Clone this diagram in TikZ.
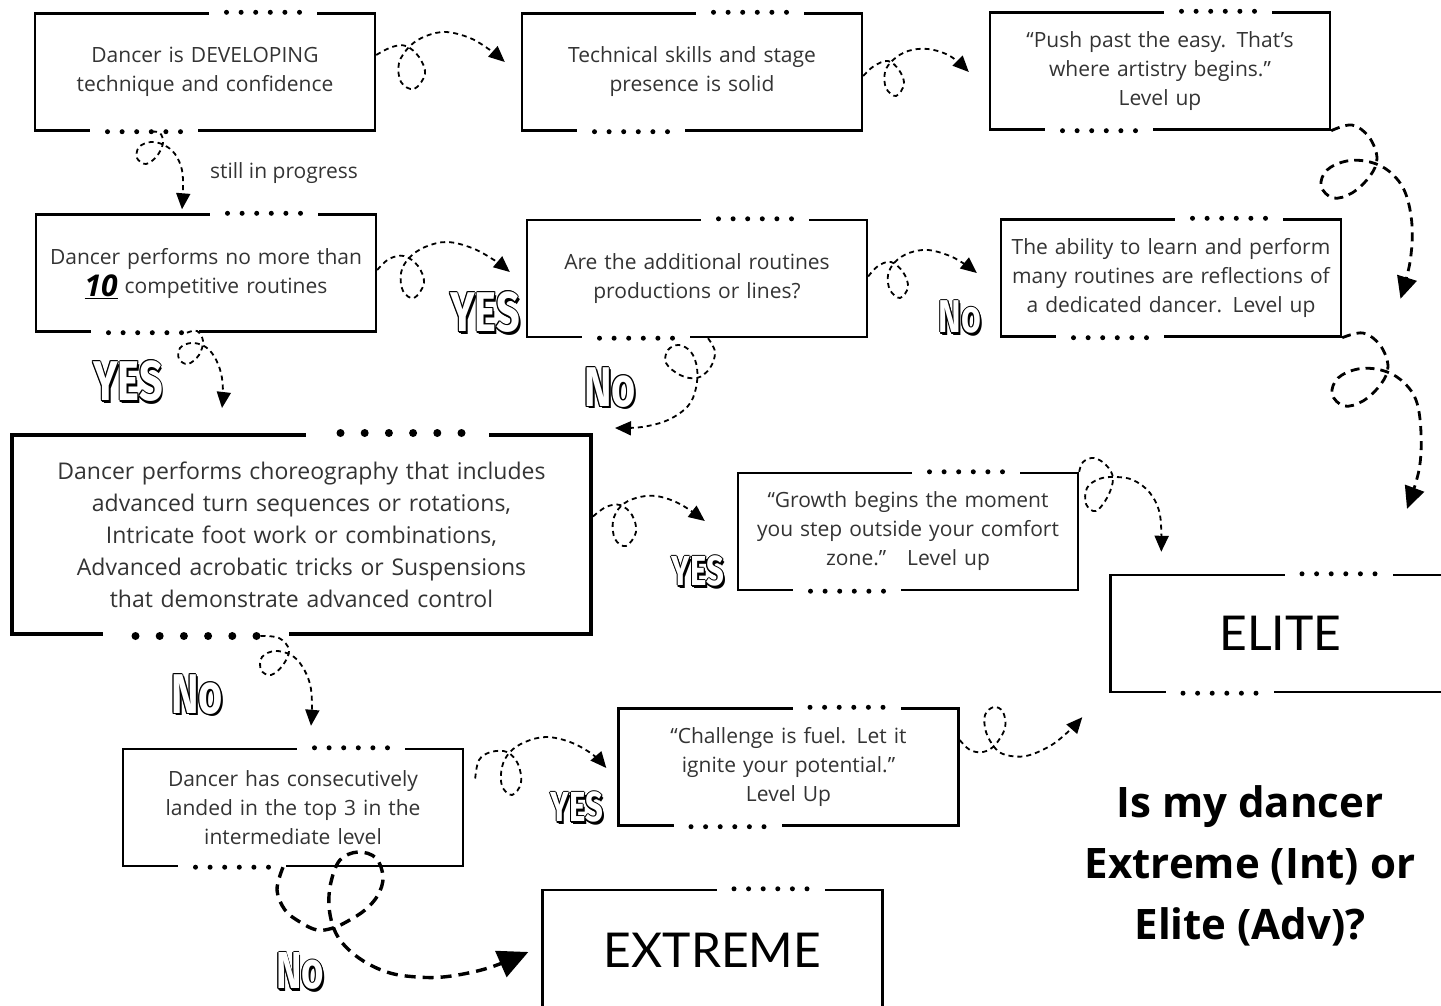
\documentclass[tikz,border=0pt]{standalone}
\usepackage{fontspec}
\usepackage{graphicx}
\setmainfont{Open Sans}
\newfontfamily\levelfont{Lato}
\newfontfamily\answerfont{Fira Sans}
\usetikzlibrary{arrows.meta,calc}
\definecolor{ink}{HTML}{333333}

% outlined answer words with a drop shadow
\newcommand{\ansout}[1]{%
  \rlap{\kern2.5pt\raisebox{-2.5pt}{#1}}%
  \rlap{\kern-1.3pt #1}\rlap{\kern1.3pt #1}%
  \rlap{\raisebox{1.3pt}{#1}}\rlap{\raisebox{-1.3pt}{#1}}%
  \rlap{\kern-.9pt\raisebox{.9pt}{#1}}\rlap{\kern.9pt\raisebox{.9pt}{#1}}%
  \rlap{\kern-.9pt\raisebox{-.9pt}{#1}}\rlap{\kern.9pt\raisebox{-.9pt}{#1}}%
  \textcolor{white}{#1}}
\newcommand{\answertext}[2]{\fontsize{#1}{#1}\selectfont\scalebox{0.74}[1]{\ansout{#2}}}

% white gaps with dots in the top and bottom border
\newcommand{\dotgaps}[1]{%
  \draw [gapline] ([xshift=4pt]#1.north) -- ([xshift=112pt]#1.north);
  \draw [dotrow] ([xshift=21.5pt]#1.north) -- ([xshift=94.7pt]#1.north);
  \draw [gapline] ([xshift=-115pt]#1.south) -- ([xshift=-7pt]#1.south);
  \draw [dotrow] ([xshift=-97.5pt]#1.south) -- ([xshift=-24.3pt]#1.south);
}

\begin{document}
\begin{tikzpicture}[x=1pt,y=-1pt]

% definitions
\tikzstyle{box} = [rectangle, draw=black, line width=2.4pt, minimum width=340pt, minimum height=117pt, inner sep=0pt, text width=336pt, align=center, text=ink, font=\fontsize{21}{29}\selectfont]

\tikzstyle{bigbox} = [box, line width=4pt, minimum width=579pt, minimum height=199pt, text width=570pt, font=\fontsize{23}{32}\selectfont]

\tikzstyle{levelbox} = [box, text=black, font=\levelfont\fontsize{48}{48}\selectfont]

\tikzstyle{gapline} = [white, line width=6pt]
\tikzstyle{dotrow} = [black, line width=5pt, line cap=round, dash pattern=on 0pt off 14.6pt]

\tikzstyle{arrow} = [-{Triangle[length=16pt,width=14pt]}, line width=1.8pt, dash pattern=on 5pt off 4pt]
\tikzstyle{bigarrow} = [-{Triangle[length=22pt,width=20pt]}, line width=2.8pt, dash pattern=on 9pt off 6pt]
\tikzstyle{hugearrow} = [-{Triangle[length=30pt,width=28pt]}, line width=3.4pt, dash pattern=on 11pt off 7pt]

\tikzstyle{answer} = [font=\answerfont\bfseries, inner sep=0pt]

\useasboundingbox (0,0) rectangle (1441,1006);

% the graph
\node (developing) [box] at (205,72) {Dancer is DEVELOPING\\technique and confidence};
\node (solid) [box] at (692,72) {Technical skills and stage\\presence is solid};
\node (pushpast) [box] at (1160,71) {“Push past the easy. That’s\\where artistry begins."\\Level up};

\node (tenroutines) [box] at (206,273) {Dancer performs no more than\\\raisebox{-3pt}[0pt][0pt]{\color{black}\fontsize{30}{30}\selectfont\bfseries\itshape\underline{10}}\ competitive routines};
\node (additional) [box] at (697,278.5) {Are the additional routines\\productions or lines?};
\node (dedicated) [box] at (1171,278) {The ability to learn and perform\\many routines are reflections of\\a dedicated dancer. Level up};

\node (choreo) [bigbox] at (301.5,534.5) {Dancer performs choreography that includes\\advanced turn sequences or rotations,\\Intricate foot work or combinations,\\Advanced acrobatic tricks or Suspensions\\that demonstrate advanced control};
\node (growth) [box] at (908,531.5) {“Growth begins the moment\\you step outside your comfort\\zone."\quad Level up};
\node (elite) [levelbox] at (1280.5,633.5) {ELITE};

\node (topthree) [box] at (293,807.5) {Dancer has consecutively\\landed in the top 3 in the\\intermediate level};
\node (challenge) [box] at (788.5,767) {“Challenge is fuel. Let it\\ignite your potential."\\Level Up};
\node (extreme) [levelbox, minimum height=120pt] at (712.5,950) {EXTREME};

\node (progress) [text=ink, font=\fontsize{21}{21}\selectfont] at (284,173) {still in progress};
\node (title) [font=\bfseries\fontsize{42}{61}\selectfont, align=center] at (1250,866) {Is my dancer\\Extreme (Int) or\\Elite (Adv)?};

\dotgaps{developing}
\dotgaps{solid}
\dotgaps{pushpast}
\dotgaps{tenroutines}
\dotgaps{additional}
\dotgaps{dedicated}
\dotgaps{growth}
\dotgaps{elite}
\dotgaps{topthree}
\dotgaps{challenge}
\dotgaps{extreme}
\draw [gapline, line width=8pt] ([xshift=4pt]choreo.north) -- ([xshift=187pt]choreo.north);
\draw [dotrow, line width=8pt, dash pattern=on 0pt off 24.2pt] ([xshift=39pt]choreo.north) -- ([xshift=160.2pt]choreo.north);
\draw [gapline, line width=8pt] ([xshift=-199pt]choreo.south) -- ([xshift=-13pt]choreo.south);
\draw [dotrow, line width=8pt, dash pattern=on 0pt off 24.2pt] ([xshift=-166pt]choreo.south) -- ([xshift=-44.8pt]choreo.south);

% arrow ends
\coordinate (toSolid) at ($(solid.west)+(-16,-10)$);
\coordinate (toPushpast) at ($(pushpast.west)+(-20,1)$);
\coordinate (toEliteA) at ($(elite.north)+(120,-275)$);
\coordinate (toEliteB) at ($(elite.north)+(126.5,-65)$);
\coordinate (toAdditional) at ($(additional.west)+(-16,-6.5)$);
\coordinate (toDedicated) at ($(dedicated.west)+(-23,-5)$);
\coordinate (toTenroutines) at ($(tenroutines.north)+(-24,-4)$);
\coordinate (toChoreoA) at ($(choreo.north)+(-79.5,-25)$);
\coordinate (toChoreoB) at ($(choreo.north east)+(22,-5)$);
\coordinate (toGrowth) at ($(growth.west)+(-32,-10.5)$);
\coordinate (toEliteC) at ($(elite.north west)+(52,-22)$);
\coordinate (toTopthree) at ($(topthree.north)+(18,-22)$);
\coordinate (toChallenge) at ($(challenge.west)+(-11,1)$);
\coordinate (toEliteD) at ($(elite.south west)+(-27,24)$);
\coordinate (toExtreme) at ($(extreme.west)+(-13,2)$);

\draw [arrow] plot [smooth, tension=0.6] coordinates {([yshift=17pt]developing.east) (392,47) (406,46) (419,57) (425,74) (414,89) (401,82) (399,63) (410,46) (426,36) (446,32) (470,38) (490,50) (toSolid)};
\draw [arrow] plot [smooth, tension=0.6] coordinates {([yshift=-4pt]solid.east) (874,66) (888,61) (899,70) (904,84) (896,96) (886,88) (885,72) (893,60) (908,51) (928,49) (950,56) (toPushpast)};
\draw [bigarrow] plot [smooth, tension=0.6] coordinates {(pushpast.south east) (1352,125) (1369,137) (1377,158) (1370,176) (1352,193) (1333,198) (1321,186) (1327,170) (1347,161) (1370,162) (1390,172) (1405,192) (1412,225) (1410,262) (toEliteA)};
\draw [bigarrow] plot [smooth, tension=0.6] coordinates {(dedicated.south east) (1363,333) (1380,345) (1388,366) (1381,384) (1363,401) (1344,406) (1332,394) (1338,378) (1358,369) (1381,370) (1401,380) (1416,400) (1421,433) (1419,470) (toEliteB)};

\draw [arrow] plot [smooth, tension=0.6] coordinates {([yshift=3pt]tenroutines.east) (389,259) (404,256) (418,266) (424,283) (414,298) (403,291) (401,273) (409,258) (425,247) (447,242) (472,248) (494,260) (toAdditional)};
\draw [arrow] plot [smooth, tension=0.6] coordinates {([yshift=2pt]additional.east) (878,266) (891,262) (903,272) (908,287) (900,298) (890,290) (888,275) (895,262) (909,253) (928,250) (950,256) (966,265) (toDedicated)};
\draw [arrow] plot [smooth, tension=0.6] coordinates {([xshift=-53pt]developing.south) (160,133) (163,143) (157,156) (146,164) (137,158) (139,147) (151,142) (164,145) (175,154) (182,170) (183,190) (toTenroutines)};
\draw [arrow] plot [smooth, tension=0.6] coordinates {([xshift=-19pt]tenroutines.south) (197,331) (203,341) (199,355) (188,364) (179,359) (180,348) (191,343) (204,346) (214,356) (221,373) (223,392) (toChoreoA)};
\draw [arrow] plot [smooth, tension=0.6] coordinates {([xshift=11pt]additional.south) (715,352) (710,368) (697,378) (680,375) (666,363) (668,350) (679,345) (691,352) (697,368) (696,388) (688,406) (668,420) (642,427) (toChoreoB)};

\draw [arrow] plot [smooth, tension=0.6] coordinates {([yshift=18pt]choreo.east) (606,507) (620,505) (632,515) (636,532) (626,546) (615,539) (613,521) (621,506) (636,498) (656,496) (680,504) (toGrowth)};
\draw [arrow] plot [smooth, tension=0.6] coordinates {(growth.north east) (1083,462) (1094,458) (1106,465) (1113,478) (1108,496) (1096,511) (1086,504) (1087,488) (1099,479) (1115,477) (1133,480) (1150,493) (1160,515) (toEliteC)};
\draw [arrow] plot [smooth, tension=0.6] coordinates {([xshift=-41pt]choreo.south) (279,638) (289,650) (283,665) (271,675) (261,670) (262,657) (275,651) (291,655) (302,666) (310,684) (312,705) (toTopthree)};

\draw [arrow] plot [smooth, tension=0.6] coordinates {([shift={(11pt,29pt)}]topthree.east) (479,760) (491,752) (507,752) (518,764) (521,783) (512,795) (502,786) (502,767) (510,752) (525,742) (546,737) (570,742) (592,754) (toChallenge)};
\draw [arrow] plot [smooth, tension=0.6] coordinates {([yshift=27pt]challenge.east) (970,750) (983,752) (995,745) (1005,728) (1003,712) (994,707) (985,715) (986,732) (995,748) (1006,755) (1026,756) (1050,746) (1069,731) (toEliteD)};
\draw [hugearrow] plot [smooth, tension=0.6] coordinates {([xshift=-10pt]topthree.south) (277,890) (285,910) (300,922) (317,930) (333,928) (348,921) (365,910) (378,895) (383,877) (376,858) (358,852) (340,860) (331,882) (329,906) (334,929) (345,946) (365,962) (390,973) (417,977) (443,977) (473,972) (497,965) (toExtreme)};

% answers
\node (yesA) [answer] at (128,382) {\answertext{56}{YES}};
\node (yesB) [answer] at (485,313) {\answertext{56}{YES}};
\node (noA) [answer] at (610,388) {\answertext{56}{No}};
\node (noB) [answer] at (960,318) {\answertext{46}{No}};
\node (yesC) [answer] at (698,572) {\answertext{42}{YES}};
\node (noC) [answer] at (197,695) {\answertext{56}{No}};
\node (yesD) [answer] at (577,808) {\answertext{42}{YES}};
\node (noD) [answer] at (300,972) {\answertext{52}{No}};

\end{tikzpicture}
\end{document}
